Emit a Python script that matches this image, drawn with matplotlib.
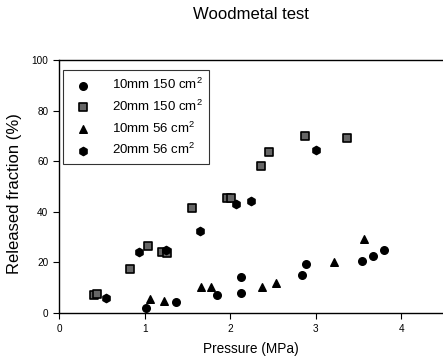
import matplotlib.pyplot as plt

plt.rcParams['font.family'] = ['Liberation Sans', 'DejaVu Sans']
plt.rcParams['mathtext.fontset'] = 'custom'
plt.rcParams['mathtext.rm'] = 'Liberation Sans'

# 10mm 150 cm2 (circles)
p_10_150 = [1.01, 1.36, 1.85, 2.13, 2.13, 2.84, 2.89, 3.54, 3.67, 3.80]
f_10_150 = [2.1, 4.4, 7.0, 7.8, 14.4, 15.0, 19.4, 20.6, 22.6, 24.8]

# 20mm 150 cm2 (squares)
p_20_150 = [0.40, 0.44, 0.83, 1.04, 1.20, 1.26, 1.55, 1.96, 2.01, 2.36, 2.45, 2.88, 3.37]
f_20_150 = [6.9, 7.6, 17.3, 26.6, 24.0, 23.6, 41.7, 45.4, 45.4, 58.2, 63.8, 70.0, 69.4]

# 10mm 56 cm2 (triangles)
p_10_56 = [1.06, 1.23, 1.66, 1.78, 2.37, 2.53, 3.21, 3.56]
f_10_56 = [5.5, 4.7, 10.2, 10.2, 10.2, 12.0, 20.2, 29.4]

# 20mm 56 cm2 (hexagons)
p_20_56 = [0.54, 0.93, 1.25, 1.65, 2.07, 2.24, 3.00]
f_20_56 = [5.8, 24.3, 24.9, 32.4, 43.1, 44.2, 64.5]

fig = plt.figure(figsize=(4.43, 3.56), dpi=100)
ax = fig.add_axes([0.134, 0.121, 0.866, 0.71])

ax.scatter(p_10_150, f_10_150, marker='o', s=30, color='black', label='10mm 150 cm$^2$')
ax.scatter(p_20_150, f_20_150, marker='s', s=26, facecolor='#666666', edgecolor='black',
           linewidth=1.2, label='20mm 150 cm$^2$')
ax.scatter(p_10_56, f_10_56, marker='^', s=30, color='black', label='10mm 56 cm$^2$')
ax.scatter(p_20_56, f_20_56, marker='h', s=36, color='black', label='20mm 56 cm$^2$')

ax.set_xlim(0, 4.49)
ax.set_ylim(0, 100)
ax.set_xticks([0, 1, 2, 3, 4])
ax.set_yticks([0, 20, 40, 60, 80, 100])
ax.tick_params(labelsize=7.2, length=4, width=0.8, pad=4)
ax.spines['right'].set_visible(False)
for s in ['left', 'bottom', 'top']:
    ax.spines[s].set_linewidth(1.0)

ax.set_xlabel('Pressure (MPa)', fontsize=9.8, labelpad=6)
fig.text(0.032, 0.455, 'Released fraction (%)', fontsize=12, rotation=90,
         ha='center', va='center')
fig.text(0.567, 0.958, 'Woodmetal test', fontsize=12, ha='center', va='center')

leg = ax.legend(loc='upper left', fontsize=9.5, frameon=True, fancybox=False,
                edgecolor='black', borderpad=0.5, handletextpad=1.2,
                labelspacing=0.5, borderaxespad=0,
                bbox_to_anchor=(0.01, 0.96))
leg.get_frame().set_linewidth(0.8)

fig.savefig('out.png', dpi=100)
